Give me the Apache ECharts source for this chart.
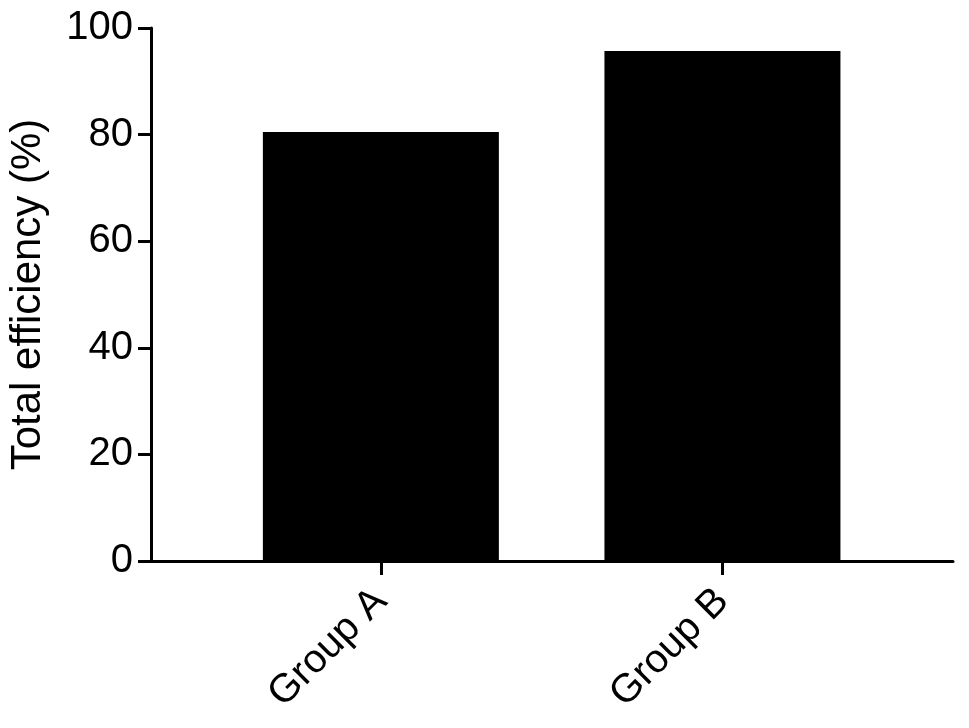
<!DOCTYPE html>
<html>
<head>
<meta charset="utf-8">
<script src="https://cdn.jsdelivr.net/npm/echarts@6/dist/echarts.min.js"></script>
<style>
  html, body { margin: 0; padding: 0; background: #fff; }
  #main { width: 969px; height: 728px; }
</style>
</head>
<body>
<div id="main"></div>
<script>
// 数据
var categories = ['Group A', 'Group B'];
var efficiency = [80.5, 95.7];
var yTicks = [0, 20, 40, 60, 80, 100];

var myChart = echarts.init(document.getElementById('main'));

// x 用数值轴，才能让两根柱子离坐标轴两端留出空白
var barData = categories.map(function (c, i) { return [i, efficiency[i]]; });
var catPos = categories.map(function (c, i) { return i; });

var option = {
    backgroundColor: '#fff',
    textStyle: { fontFamily: 'Liberation Sans, Arial, sans-serif', color: '#000' },
    grid: { left: 151, right: 16, top: 28, bottom: 167, outerBoundsMode: 'none' },
    xAxis: {
        type: 'value',
        min: -0.673,
        max: 1.675,
        splitLine: { show: false },
        axisLine: { show: true, onZero: false, lineStyle: { color: '#000', width: 3 } },
        axisTick: { show: true, length: 14, lineStyle: { color: '#000', width: 3 }, customValues: catPos },
        axisLabel: {
            customValues: catPos,
            rotate: 45,
            margin: 34,
            fontSize: 40,
            color: '#000',
            formatter: function (v) { return categories[Math.round(v)]; }
        }
    },
    yAxis: {
        type: 'value',
        min: 0,
        max: 100,
        interval: 20,
        name: 'Total efficiency (%)',
        nameLocation: 'middle',
        nameGap: 102,
        nameTextStyle: { fontSize: 42, color: '#000' },
        splitLine: { show: false },
        axisLine: { show: true, onZero: false, lineStyle: { color: '#000', width: 3 } },
        axisTick: { show: true, length: 13, lineStyle: { color: '#000', width: 3 } },
        axisLabel: {
            margin: 18,
            fontSize: 40,
            color: '#000',
            formatter: function (v) { return yTicks.indexOf(v) >= 0 ? String(v) : ''; }
        }
    },
    series: [{
        type: 'bar',
        data: barData,
        barWidth: 236,
        itemStyle: { color: '#000' },
        silent: true
    }],
    animation: false
};
myChart.setOption(option);
</script>
</body>
</html>
